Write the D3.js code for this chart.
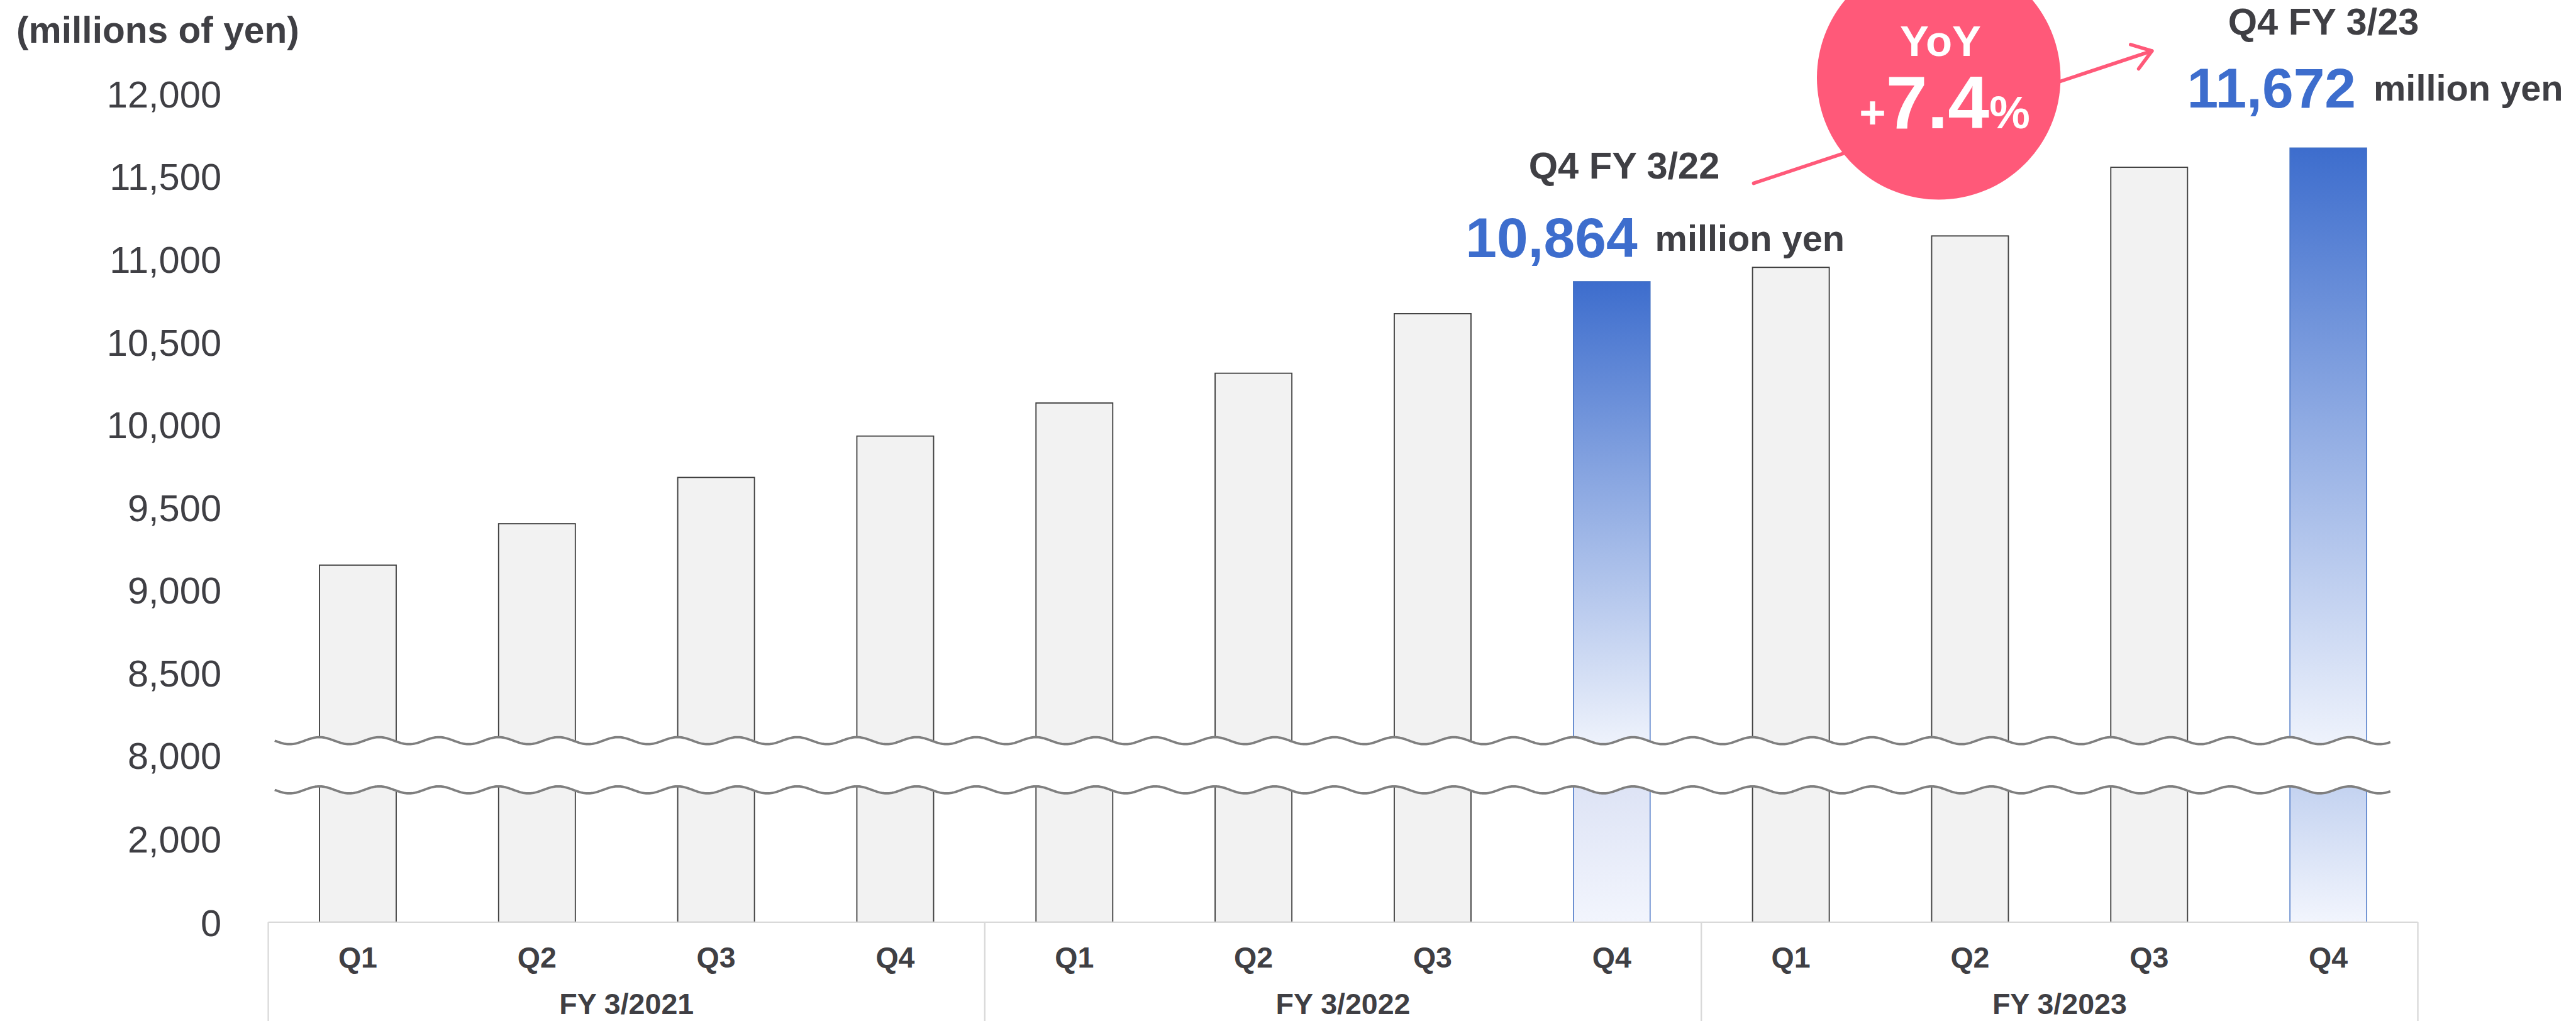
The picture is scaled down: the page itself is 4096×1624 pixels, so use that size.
<!DOCTYPE html>
<html>
<head>
<meta charset="utf-8">
<script src="https://cdn.jsdelivr.net/npm/d3@7"></script>
<style>
  html, body { margin: 0; padding: 0; background: #ffffff; }
  svg { display: block; font-family: "Liberation Sans", Arial, Helvetica, sans-serif; }
</style>
</head>
<body>
<svg id="chart" width="4096" height="1624"></svg>
<script>
// ---- data ----
const fiscalYears = ["FY 3/2021", "FY 3/2022", "FY 3/2023"];
const quarters = ["Q1", "Q2", "Q3", "Q4"];
const revenue = [9150, 9400, 9680, 9930, 10130, 10310, 10670, 10864, 10950, 11140, 11555, 11672];
const yTicks = [0, 2000, 8000, 8500, 9000, 9500, 10000, 10500, 11000, 11500, 12000];
const calloutBars = [7, 11];
const calloutTitles = ["Q4 FY 3/22", "Q4 FY 3/23"];
const unitLabel = "million yen";
const axisTitle = "(millions of yen)";

// ---- styling ----
const INK = "#3f3f44";
const BLUE = "#3d6dcd";
const PINK = "#ff5979";
const GRID = "#d9d9d9";
const FONT = "'Liberation Sans', Arial, Helvetica, sans-serif";

// layout is written in a 4398 x 1744 design space and scaled to the window
const DESIGN_W = 4398;
const k = 4096 / DESIGN_W;

const svg = d3.select("#chart");
const root = svg.append("g").attr("transform", `scale(${k})`);

const x = d3.scaleBand()
  .domain(d3.range(revenue.length))
  .range([458, 4128])
  .paddingInner(0.5716)
  .paddingOuter(0.2858);
const xYear = d3.scaleBand().domain(fiscalYears).range([458, 4128]);

// broken value axis: 0-2000 below the break, 8000-12000 above it
const y = d3.scaleLinear()
  .domain([0, 2000, 8000, 12000])
  .range([1575, 1432, 1290, 160]);

const breakTop = y(8000) - 25;
const breakBottom = y(8000) + 59;
const waveAmp = 6;
const waveLen = x.step() / 3;
const wavePhase = x(0);
const waveX0 = 469, waveX1 = 4081;

// ---- gradients ----
const defs = svg.append("defs");
function vGradient(id, c0, c1) {
  const g = defs.append("linearGradient").attr("id", id)
    .attr("x1", 0).attr("y1", 0).attr("x2", 0).attr("y2", 1);
  g.append("stop").attr("offset", 0).attr("stop-color", c0);
  g.append("stop").attr("offset", 1).attr("stop-color", c1);
}
vGradient("blueUpper", BLUE, "#eff3fc");
const lowerTint = { 7: "#dde3f5", 11: "#c3d2f0" };
calloutBars.forEach(i => vGradient("blueLower" + i, lowerTint[i] || "#d6def3", "#f2f5fd"));

// ---- bars ----
const isHi = i => calloutBars.includes(i);
const barData = revenue.map((v, i) => ({ v, i }));
const barG = root.append("g").selectAll("g").data(barData).join("g");

barG.append("rect")
  .attr("x", d => x(d.i))
  .attr("width", x.bandwidth())
  .attr("y", d => y(d.v))
  .attr("height", d => breakTop + 9 - y(d.v))
  .attr("fill", d => isHi(d.i) ? "url(#blueUpper)" : "#f2f2f2")
  .attr("stroke", d => isHi(d.i) ? "#4472c4" : "#404040")
  .attr("stroke-width", d => isHi(d.i) ? 1.6 : 2);

barG.append("rect")
  .attr("x", d => x(d.i))
  .attr("width", x.bandwidth())
  .attr("y", breakBottom - 9)
  .attr("height", y(0) - (breakBottom - 9))
  .attr("fill", d => isHi(d.i) ? `url(#blueLower${d.i})` : "#f2f2f2")
  .attr("stroke", d => isHi(d.i) ? "#4472c4" : "#404040")
  .attr("stroke-width", d => isHi(d.i) ? 1.6 : 2);

// ---- axis break (two wavy lines with a white gap) ----
const wavePts = cy => d3.range(waveX0, waveX1 + 0.1, 2)
  .map(px => [px, cy - waveAmp * Math.cos(2 * Math.PI * (px - wavePhase) / waveLen)]);
const upperWave = wavePts(breakTop);
const lowerWave = wavePts(breakBottom);
const line = d3.line();

root.append("path")
  .attr("d", line(upperWave.concat(lowerWave.slice().reverse())) + "Z")
  .attr("fill", "#ffffff");
[upperWave, lowerWave].forEach(pts => {
  root.append("path")
    .attr("d", line(pts))
    .attr("fill", "none")
    .attr("stroke", "#7f7f7f")
    .attr("stroke-width", 4);
});

// ---- category table under the bars ----
const table = root.append("g").attr("stroke", GRID).attr("stroke-width", 2.5);
table.append("line")
  .attr("x1", x.range()[0]).attr("x2", x.range()[1])
  .attr("y1", y(0)).attr("y2", y(0));
const dividers = fiscalYears.map(f => xYear(f)).concat([xYear.range()[1]]);
table.selectAll("line.div").data(dividers).join("line")
  .attr("class", "div")
  .attr("x1", d => d).attr("x2", d => d)
  .attr("y1", y(0)).attr("y2", 1800);

root.append("g").selectAll("text").data(barData).join("text")
  .attr("x", d => x(d.i) + x.bandwidth() / 2)
  .attr("y", 1652)
  .attr("text-anchor", "middle")
  .attr("font-family", FONT).attr("font-weight", "bold").attr("font-size", 50)
  .attr("fill", INK)
  .text(d => quarters[d.i % quarters.length]);

root.append("g").selectAll("text").data(fiscalYears).join("text")
  .attr("x", d => xYear(d) + xYear.bandwidth() / 2)
  .attr("y", 1732)
  .attr("text-anchor", "middle")
  .attr("font-family", FONT).attr("font-weight", "bold").attr("font-size", 50)
  .attr("fill", INK)
  .text(d => d);

// ---- value axis ----
const yAxis = d3.axisLeft(y)
  .tickValues(yTicks)
  .tickFormat(d3.format(","))
  .tickSize(0)
  .tickPadding(80);
const yAxisG = root.append("g")
  .attr("transform", `translate(${x.range()[0]},0)`)
  .call(yAxis);
yAxisG.select(".domain").remove();
yAxisG.selectAll("text")
  .attr("font-family", FONT)
  .attr("font-size", 64)
  .attr("fill", INK)
  .attr("dy", "0.36em");

root.append("text")
  .attr("x", 28).attr("y", 73)
  .attr("font-family", FONT).attr("font-weight", "bold").attr("font-size", 63)
  .attr("fill", INK)
  .text(axisTitle);

// ---- year-on-year callout ----
const arrowFrom = [2994, 313], arrowTo = [3674, 87];
const ang = Math.atan2(arrowTo[1] - arrowFrom[1], arrowTo[0] - arrowFrom[0]);
const headLen = 38, headSpread = 35 * Math.PI / 180;
const arrow = root.append("g")
  .attr("stroke", PINK).attr("stroke-width", 6)
  .attr("stroke-linecap", "round").attr("fill", "none");
arrow.append("line")
  .attr("x1", arrowFrom[0]).attr("y1", arrowFrom[1])
  .attr("x2", arrowTo[0]).attr("y2", arrowTo[1]);
arrow.append("path")
  .attr("stroke-linejoin", "round")
  .attr("d", line([
    [arrowTo[0] + headLen * Math.cos(ang + Math.PI - headSpread), arrowTo[1] + headLen * Math.sin(ang + Math.PI - headSpread)],
    arrowTo,
    [arrowTo[0] + headLen * Math.cos(ang + Math.PI + headSpread), arrowTo[1] + headLen * Math.sin(ang + Math.PI + headSpread)]
  ]));

root.append("circle")
  .attr("cx", 3310).attr("cy", 133).attr("r", 208)
  .attr("fill", PINK);

root.append("text")
  .attr("x", 3313).attr("y", 96)
  .attr("text-anchor", "middle")
  .attr("font-family", FONT).attr("font-weight", "bold").attr("font-size", 74)
  .attr("fill", "#ffffff")
  .text("YoY");

const yoy = (revenue[calloutBars[1]] / revenue[calloutBars[0]] - 1) * 100;
const yoyText = root.append("text")
  .attr("x", 3320).attr("y", 219)
  .attr("text-anchor", "middle")
  .attr("font-family", FONT).attr("font-weight", "bold")
  .attr("fill", "#ffffff");
yoyText.append("tspan").attr("font-size", 78).text(yoy >= 0 ? "+" : "−");
yoyText.append("tspan").attr("font-size", 127).text(d3.format(".1f")(Math.abs(yoy)));
yoyText.append("tspan").attr("font-size", 78).text("%");

// ---- value callouts for the two highlighted quarters ----
const calloutLayout = [
  { title: [2773, 305], num: [2502, 439], unitDy: -11 },
  { title: [3967, 59], num: [3734, 184], unitDy: -12 }
];
calloutBars.forEach((bi, n) => {
  const L = calloutLayout[n];
  root.append("text")
    .attr("x", L.title[0]).attr("y", L.title[1])
    .attr("text-anchor", "middle")
    .attr("font-family", FONT).attr("font-weight", "bold").attr("font-size", 64)
    .attr("fill", INK)
    .text(calloutTitles[n]);
  const num = root.append("text")
    .attr("x", L.num[0]).attr("y", L.num[1])
    .attr("font-family", FONT).attr("font-weight", "bold").attr("font-size", 96)
    .attr("fill", BLUE)
    .text(d3.format(",")(revenue[bi]));
  const w = num.node().getComputedTextLength();
  root.append("text")
    .attr("x", L.num[0] + w + 30).attr("y", L.num[1] + L.unitDy)
    .attr("font-family", FONT).attr("font-weight", "bold").attr("font-size", 62)
    .attr("fill", INK)
    .text(unitLabel);
});
</script>
</body>
</html>
